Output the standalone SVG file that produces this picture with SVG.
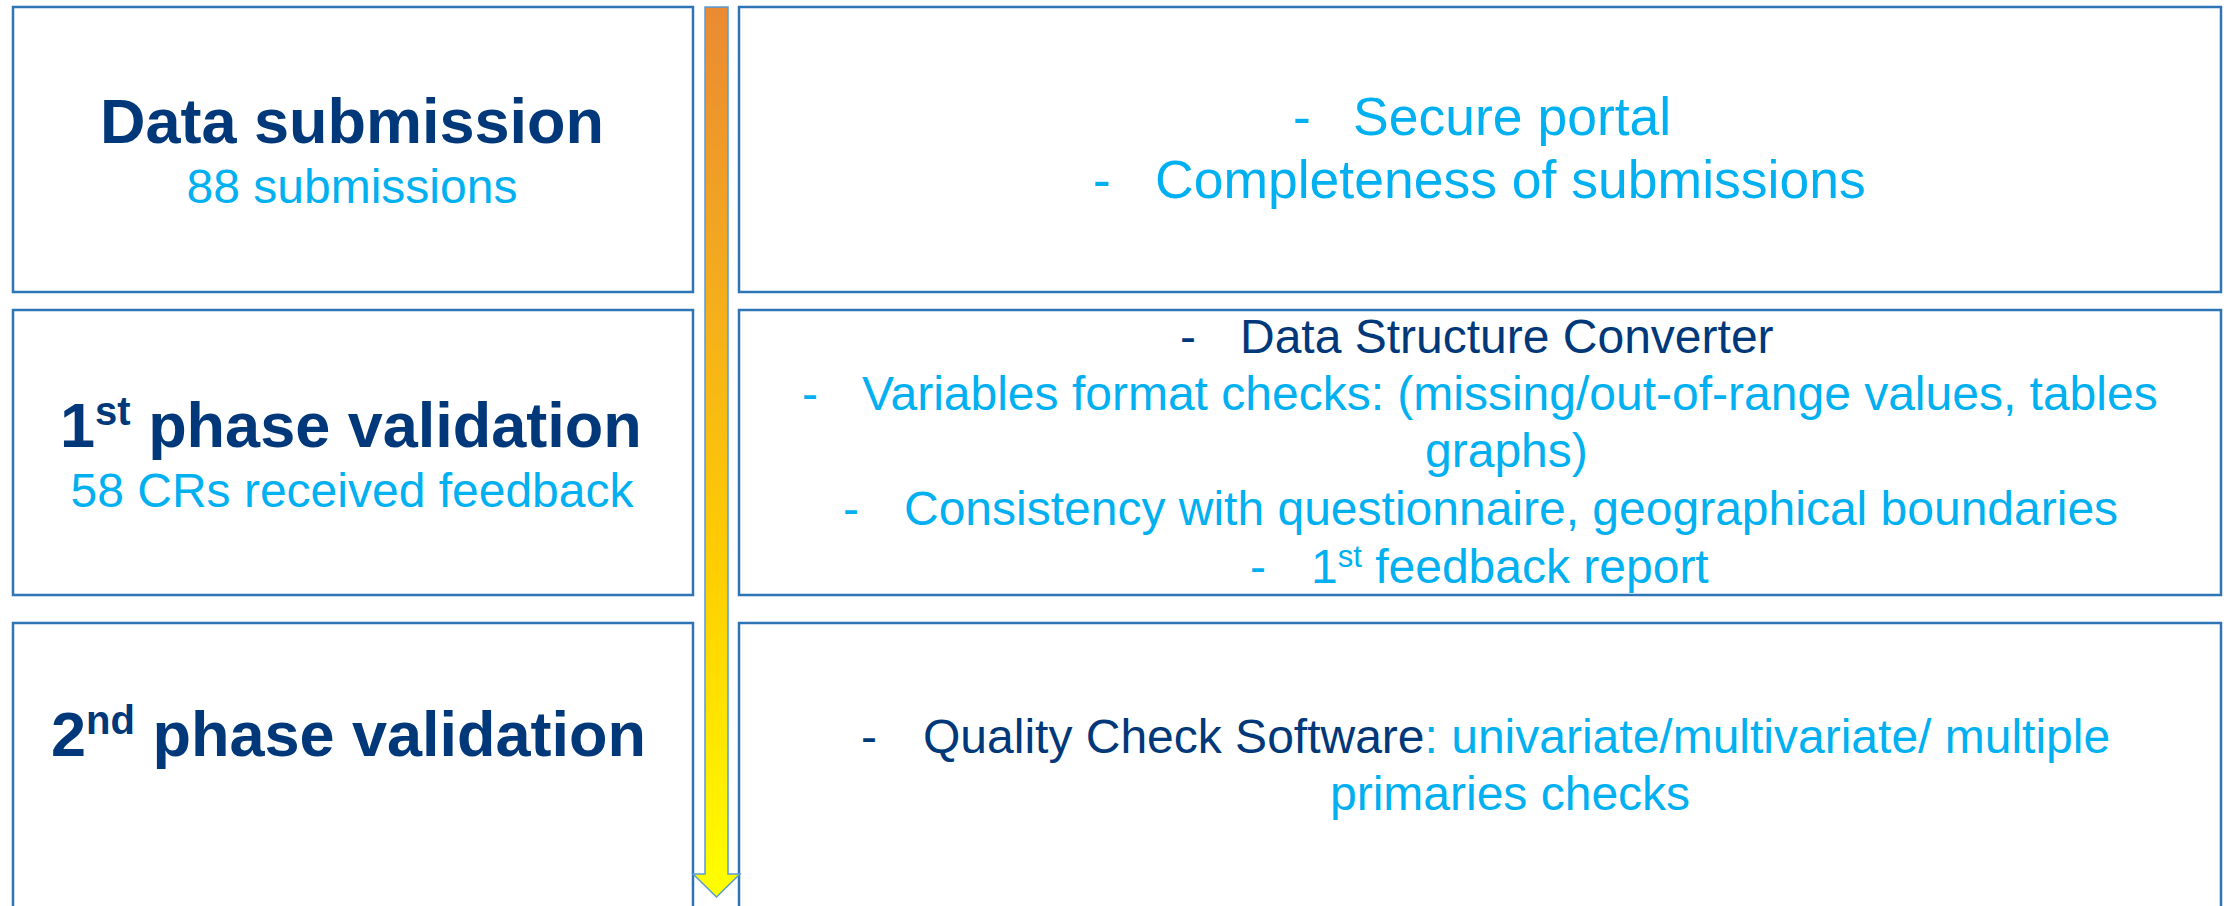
<svg xmlns="http://www.w3.org/2000/svg" width="2229" height="906" viewBox="0 0 2229 906">
<style>
.box{fill:#FFFFFF;stroke:#2E75B6;stroke-width:2.5}
.t{font-family:"Liberation Sans",Arial,sans-serif}
.title{font-weight:bold;font-size:63px;fill:#00387A}
.sub{font-size:48px;fill:#00B0F0}
.dk{fill:#00387A}
.lt{fill:#00B0F0}
.r1{font-size:53.5px}
.r2{font-size:48px}
</style>
<defs>
<linearGradient id="arrowGrad" x1="0" y1="0" x2="0" y2="1">
<stop offset="0" stop-color="#EA8A33"/>
<stop offset="0.35" stop-color="#F5B01B"/>
<stop offset="0.65" stop-color="#FFD000"/>
<stop offset="1" stop-color="#FFFF00"/>
</linearGradient>
</defs>
<rect width="2229" height="906" fill="#FFFFFF"/>

<g id="node-data-submission">
<rect class="box" x="13" y="7" width="680" height="285"/>
<text class="t title" x="352" y="143" text-anchor="middle">Data submission</text>
<text class="t sub" x="352" y="203" text-anchor="middle">88 submissions</text>
</g>

<g id="node-data-submission-details">
<rect class="box" x="739" y="7" width="1482" height="285"/>
<text class="t r1 lt" x="1293" y="135">-</text>
<text class="t r1 lt" x="1353" y="135">Secure portal</text>
<text class="t r1 lt" x="1093" y="198">-</text>
<text class="t r1 lt" x="1155" y="198">Completeness of submissions</text>
</g>

<g id="node-phase1">
<rect class="box" x="13" y="310" width="680" height="285"/>
<text class="t title" x="60" y="447">1<tspan font-size="40" dy="-22">st</tspan><tspan dy="22"> phase validation</tspan></text>
<text class="t sub" x="352" y="507" text-anchor="middle">58 CRs received feedback</text>
</g>

<g id="node-phase1-details">
<rect class="box" x="739" y="310" width="1482" height="285"/>
<text class="t r2 dk" x="1180" y="353">-</text>
<text class="t r2 dk" x="1240" y="353">Data Structure Converter</text>
<text class="t r2 lt" x="802" y="410">-</text>
<text class="t r2 lt" x="862" y="410">Variables format checks: (missing/out-of-range values, tables</text>
<text class="t r2 lt" x="1425" y="467">graphs)</text>
<text class="t r2 lt" x="843" y="525">-</text>
<text class="t r2 lt" x="904" y="525">Consistency with questionnaire, geographical boundaries</text>
<text class="t r2 lt" x="1250" y="583">-</text>
<text class="t r2 lt" x="1311" y="583">1<tspan font-size="31" dy="-16">st</tspan><tspan dy="16"> feedback report</tspan></text>
</g>

<g id="node-phase2">
<rect class="box" x="13" y="623" width="680" height="300"/>
<text class="t title" x="51" y="756">2<tspan font-size="40" dy="-22">nd</tspan><tspan dy="22"> phase validation</tspan></text>
</g>

<g id="node-phase2-details">
<rect class="box" x="739" y="623" width="1482" height="300"/>
<text class="t r2 dk" x="861" y="753">-</text>
<text class="t r2" x="923" y="753"><tspan class="dk">Quality Check Software</tspan><tspan class="lt">: univariate/multivariate/ multiple</tspan></text>
<text class="t r2 lt" x="1330" y="810">primaries checks</text>
</g>

<g id="connectors">
<path d="M705,7 L728,7 L728,874 L740,874 L716.5,897 L693,874 L705,874 Z" fill="url(#arrowGrad)" stroke="#5B9BD5" stroke-width="1.5" stroke-linejoin="miter"/>
</g>
</svg>
